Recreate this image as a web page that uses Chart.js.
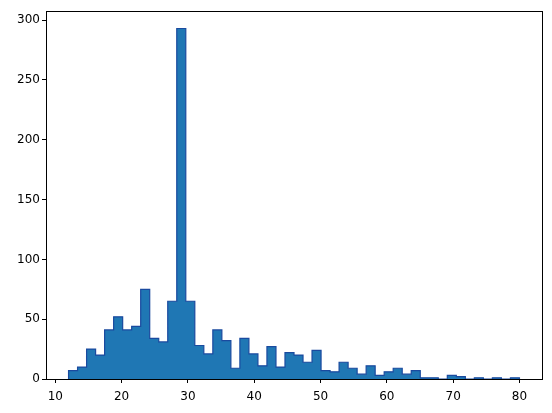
<!DOCTYPE html>
<html>
<head>
<meta charset="utf-8">
<script src="https://cdn.jsdelivr.net/npm/chart.js@4.4.1/dist/chart.umd.min.js"></script>
<style>
    html, body { margin: 0; padding: 0; background: #fff; }
    #wrap { width: 552px; height: 413px; }
</style>
</head>
<body>
<div id="wrap"><canvas id="histChart" width="552" height="413"></canvas></div>
<script>
// Histogram setup: 50 bins between 12 and 80
const histMin = 12;
const histMax = 80;
const binCount = 50;

// Counts per bin
const counts = [
    7, 10, 25, 20, 41, 52, 41, 44, 75, 34,
    31, 65, 293, 65, 28, 21, 41, 32, 9, 34,
    21, 11, 27, 10, 22, 20, 14, 24, 7, 6,
    14, 9, 4, 11, 3, 6, 9, 4, 7, 1,
    1, 0, 3, 2, 0, 1, 0, 1, 0, 1
];

// Tick labels
const xTicks = [10, 20, 30, 40, 50, 60, 70, 80];
const yTicks = [0, 50, 100, 150, 200, 250, 300];

// Step outline (like histtype='stepfilled'): one point per bin edge
const binWidth = (histMax - histMin) / binCount;
const stepPoints = [{ x: histMin, y: 0 }];
counts.forEach((c, i) => stepPoints.push({ x: histMin + binWidth * i, y: c }));
stepPoints.push({ x: histMax, y: 0 });

// Axis ranges like matplotlib's 5% margins
const xPad = (histMax - histMin) * 0.05;
const yMax = Math.max(...counts) * 1.05;

// Draws the box round the plot area
const frameBox = {
    id: 'frameBox',
    afterDraw(chart) {
        const { ctx, chartArea } = chart;
        ctx.save();
        ctx.strokeStyle = '#000';
        ctx.lineWidth = 1;
        ctx.strokeRect(Math.round(chartArea.left) + 0.5, Math.round(chartArea.top) + 0.5,
            Math.round(chartArea.right - chartArea.left), Math.round(chartArea.bottom - chartArea.top));
        ctx.restore();
    }
};

new Chart(document.getElementById('histChart').getContext('2d'), {
    type: 'line',
    data: {
        datasets: [{
            data: stepPoints,
            stepped: 'before',
            fill: 'origin',
            backgroundColor: '#1f77b4',
            borderColor: '#1a4a9f',
            borderWidth: 1.2,
            pointRadius: 0
        }]
    },
    options: {
        responsive: false,
        animation: false,
        layout: { padding: { left: 0, right: 10, top: 11, bottom: 0 } },
        plugins: {
            legend: { display: false },
            tooltip: { enabled: false }
        },
        scales: {
            x: {
                type: 'linear',
                offset: false,
                min: histMin - xPad,
                max: histMax + xPad,
                afterBuildTicks: scale => { scale.ticks = xTicks.map(v => ({ value: v })); },
                afterFit: scale => { scale.height = 34; },
                grid: { offset: false, drawOnChartArea: false, drawTicks: true, tickLength: 4, color: '#000' },
                border: { display: true, color: '#000' },
                ticks: {
                    color: '#000',
                    padding: 7,
                    maxRotation: 0,
                    font: { family: 'DejaVu Sans', size: 12 }
                }
            },
            y: {
                min: 0,
                max: yMax,
                afterBuildTicks: scale => { scale.ticks = yTicks.map(v => ({ value: v })); },
                afterFit: scale => { scale.width = 46; },
                grid: { drawOnChartArea: false, drawTicks: true, tickLength: 4, color: '#000' },
                border: { display: true, color: '#000' },
                ticks: {
                    color: '#000',
                    padding: 2,
                    font: { family: 'DejaVu Sans', size: 12 }
                }
            }
        }
    },
    plugins: [frameBox]
});
</script>
</body>
</html>
